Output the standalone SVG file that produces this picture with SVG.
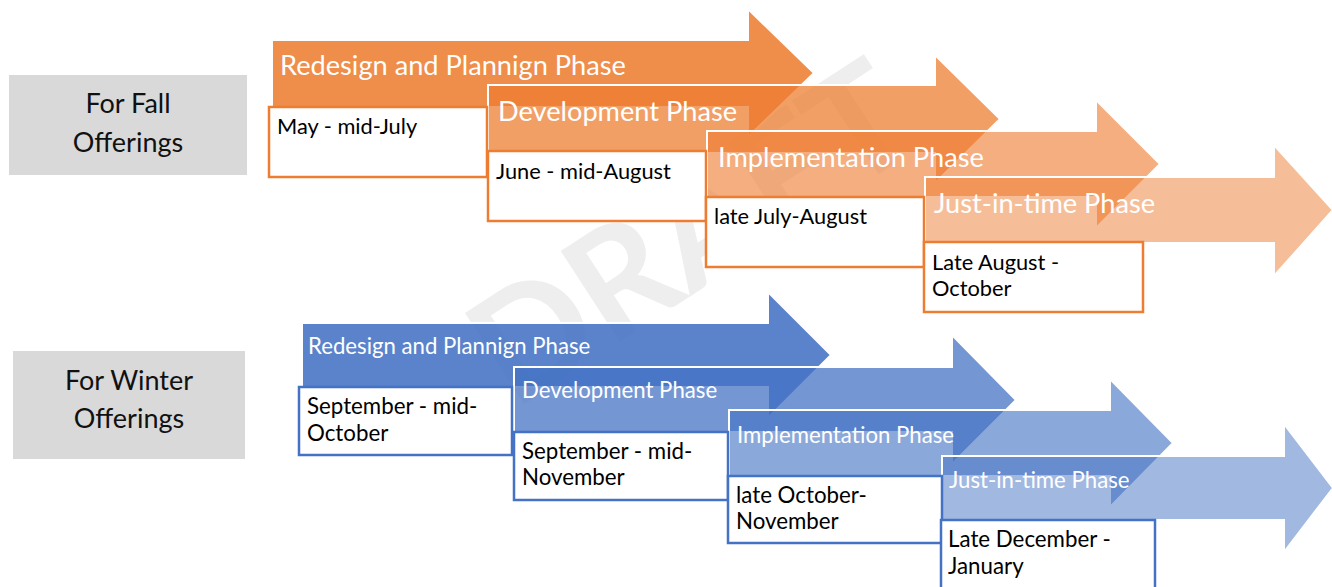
<svg xmlns="http://www.w3.org/2000/svg" width="1332" height="587" viewBox="0 0 1332 587">
  <style>
    .label-box { fill: #d9d9d9; }
    .label { font-family: Lato, "Liberation Sans", sans-serif; font-size: 27px; fill: #111; text-anchor: middle; }
    .arrow { stroke: #ffffff; stroke-width: 2; stroke-linejoin: miter; }
    .fall { fill: #ED7D31; }
    .winter { fill: #4472C4; }
    .a1 { fill-opacity: 0.88; }
    .a2 { fill-opacity: 0.74; }
    .a3 { fill-opacity: 0.62; }
    .a4 { fill-opacity: 0.5; }
    .hdr-fall { font-family: Lato, "Liberation Sans", sans-serif; font-size: 27.2px; fill: #ffffff; }
    .hdr-winter { font-family: Lato, "Liberation Sans", sans-serif; font-size: 22.2px; fill: #ffffff; }
    .date-box-fall { fill: #ffffff; stroke: #ED7D31; stroke-width: 2.5; }
    .date-box-winter { fill: #ffffff; stroke: #4472C4; stroke-width: 2.5; }
    .date { font-family: Lato, "Liberation Sans", sans-serif; font-size: 21.8px; fill: #000000; }
    .date-w { font-family: Lato, "Liberation Sans", sans-serif; font-size: 22.3px; fill: #000000; }
    .watermark { font-family: Lato, "Liberation Sans", sans-serif; font-weight: bold; font-size: 150px; fill: #eeeeee; text-anchor: middle; }
  </style>

  <rect width="1332" height="587" fill="#ffffff"/>

  <!-- background watermark -->
  <text class="watermark" transform="translate(690,232) rotate(-33)" y="54">DRAFT</text>

  <!-- row labels -->
  <g id="label-fall">
    <rect class="label-box" x="9" y="75" width="238" height="100"/>
    <text class="label" x="128" y="113">For Fall</text>
    <text class="label" x="128" y="152">Offerings</text>
  </g>
  <g id="label-winter">
    <rect class="label-box" x="13" y="351" width="232" height="108"/>
    <text class="label" x="129" y="390">For Winter</text>
    <text class="label" x="129" y="428">Offerings</text>
  </g>

  <!-- phase arrows (no separate connectors; the arrows carry the flow) -->
  <g id="connectors">
    <path class="arrow fall a1" d="M272,40 H748 V9 L814,73 L748,137 V107 H272 Z"/>
    <path class="arrow fall a2" d="M488,85 H935 V55 L1000,119 L935,183 V153 H488 Z"/>
    <path class="arrow fall a3" d="M707,131 H1096 V100 L1160,164 L1096,228 V197 H707 Z"/>
    <path class="arrow fall a4" d="M925,177 H1274 V145 L1333,210 L1274,276 V243 H925 Z"/>

    <path class="arrow winter a1" d="M302,323 H768 V292 L831,355 L768,418 V387 H302 Z"/>
    <path class="arrow winter a2" d="M514,367 H952 V335 L1016,400 L952,464 V432 H514 Z"/>
    <path class="arrow winter a3" d="M729,410 H1110 V379 L1173,443 L1110,507 V476 H729 Z"/>
    <path class="arrow winter a4" d="M942,456 H1284 V424 L1333,488 L1284,552 V520 H942 Z"/>
  </g>

  <!-- fall phases -->
  <g id="fall-redesign">
    <text class="hdr-fall" x="280" y="75">Redesign and Plannign Phase</text>
    <rect class="date-box-fall" x="269" y="107" width="218" height="70"/>
    <text class="date" x="277" y="134">May - mid-July</text>
  </g>
  <g id="fall-development">
    <text class="hdr-fall" x="498" y="121">Development Phase</text>
    <rect class="date-box-fall" x="488" y="151" width="218" height="70"/>
    <text class="date" x="496" y="179">June - mid-August</text>
  </g>
  <g id="fall-implementation">
    <text class="hdr-fall" x="718" y="167">Implementation Phase</text>
    <rect class="date-box-fall" x="706" y="197" width="218" height="70"/>
    <text class="date" x="714" y="224">late July-August</text>
  </g>
  <g id="fall-just-in-time">
    <text class="hdr-fall" x="934" y="213">Just-in-time Phase</text>
    <rect class="date-box-fall" x="924" y="242" width="219" height="70"/>
    <text class="date" x="932" y="270">Late August -</text>
    <text class="date" x="932" y="296">October</text>
  </g>

  <!-- winter phases -->
  <g id="winter-redesign">
    <text class="hdr-winter" x="308" y="354">Redesign and Plannign Phase</text>
    <rect class="date-box-winter" x="299" y="387" width="213" height="68"/>
    <text class="date-w" x="307" y="414">September - mid-</text>
    <text class="date-w" x="307" y="441">October</text>
  </g>
  <g id="winter-development">
    <text class="hdr-winter" x="522" y="398">Development Phase</text>
    <rect class="date-box-winter" x="514" y="432" width="214" height="68"/>
    <text class="date-w" x="522" y="459">September - mid-</text>
    <text class="date-w" x="522" y="485">November</text>
  </g>
  <g id="winter-implementation">
    <text class="hdr-winter" x="737" y="443">Implementation Phase</text>
    <rect class="date-box-winter" x="728" y="476" width="214" height="67"/>
    <text class="date-w" x="736" y="503">late October-</text>
    <text class="date-w" x="736" y="529">November</text>
  </g>
  <g id="winter-just-in-time">
    <text class="hdr-winter" x="949" y="488">Just-in-time Phase</text>
    <rect class="date-box-winter" x="941" y="520" width="214" height="72"/>
    <text class="date-w" x="948" y="547">Late December -</text>
    <text class="date-w" x="948" y="574">January</text>
  </g>
</svg>
